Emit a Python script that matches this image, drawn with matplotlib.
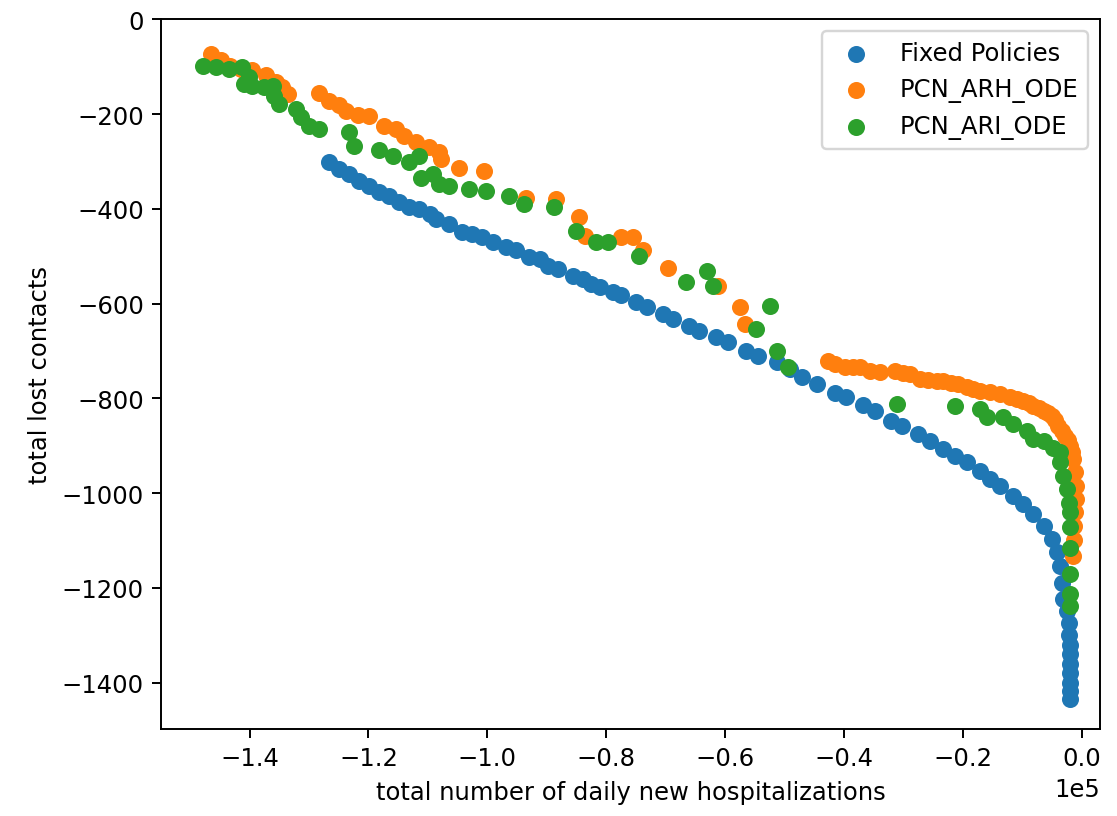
import matplotlib
matplotlib.use('Agg')
import matplotlib.pyplot as plt
import numpy as np

# x values in units of 1e5 hospitalizations, y = total lost contacts
fixed_x = [
	-1.266, -1.249, -1.232, -1.215, -1.199, -1.182, -1.165, -1.148, -1.131, -1.114,
	-1.097, -1.086, -1.064, -1.042, -1.025, -1.008, -0.991, -0.968, -0.951, -0.929,
	-0.912, -0.898, -0.881, -0.856, -0.839, -0.825, -0.811, -0.789, -0.775, -0.749,
	-0.732, -0.705, -0.688, -0.660, -0.643, -0.615, -0.595, -0.564, -0.544, -0.513,
	-0.491, -0.471, -0.446, -0.415, -0.396, -0.368, -0.348, -0.320, -0.303, -0.275,
	-0.255, -0.233, -0.213, -0.193, -0.171, -0.154, -0.137, -0.115, -0.098, -0.081,
	-0.064, -0.050, -0.042, -0.036, -0.033, -0.031, -0.025, -0.022, -0.021, -0.020,
	-0.020, -0.019, -0.019, -0.019, -0.019, -0.019,
]
fixed_y = [
	-302, -316, -327, -341, -351, -364, -372, -385, -397, -400,
	-411, -422, -432, -450, -453, -460, -471, -481, -488, -502,
	-506, -520, -527, -541, -548, -559, -566, -576, -583, -597,
	-608, -622, -633, -647, -657, -671, -682, -700, -710, -724,
	-738, -756, -770, -788, -798, -814, -826, -848, -858, -876,
	-890, -907, -921, -935, -953, -971, -985, -1006, -1023, -1045,
	-1069, -1097, -1125, -1154, -1189, -1224, -1250, -1275, -1300, -1320,
	-1340, -1360, -1380, -1400, -1418, -1435,
]

arh_x = [
	-1.465, -1.448, -1.432, -1.415, -1.395, -1.373, -1.356, -1.345, -1.336, -1.283,
	-1.266, -1.249, -1.238, -1.218, -1.199, -1.173, -1.154, -1.140, -1.120, -1.098,
	-1.081, -1.078, -1.047, -1.005, -0.935, -0.884, -0.845, -0.836, -0.775, -0.755,
	-0.738, -0.696, -0.612, -0.575, -0.567, -0.427, -0.415, -0.398, -0.385, -0.373,
	-0.356, -0.339, -0.314, -0.300, -0.289, -0.272, -0.258, -0.244, -0.233, -0.220,
	-0.208, -0.193, -0.182, -0.171, -0.154, -0.137, -0.120, -0.109, -0.098, -0.089,
	-0.081, -0.072, -0.064, -0.057, -0.050, -0.044, -0.039, -0.033, -0.028, -0.023,
	-0.019, -0.016, -0.014, -0.011, -0.009, -0.009, -0.011, -0.012, -0.013, -0.014,
]
arh_y = [
	-73, -87, -98, -105, -108, -118, -133, -144, -158, -156,
	-172, -182, -193, -203, -205, -225, -232, -246, -260, -270,
	-281, -295, -314, -321, -378, -379, -418, -457, -460, -460,
	-488, -524, -562, -608, -643, -721, -728, -735, -735, -735,
	-742, -745, -742, -746, -749, -759, -761, -763, -763, -767,
	-770, -777, -780, -784, -787, -791, -798, -801, -805, -810,
	-816, -820, -826, -831, -837, -846, -858, -868, -879, -889,
	-900, -914, -928, -956, -985, -1013, -1041, -1070, -1100, -1132,
]

ari_x = [
	-1.479, -1.457, -1.434, -1.412, -1.401, -1.409, -1.395, -1.375, -1.361, -1.359,
	-1.350, -1.322, -1.314, -1.300, -1.283, -1.232, -1.224, -1.182, -1.159, -1.131,
	-1.114, -1.112, -1.092, -1.081, -1.064, -1.030, -1.002, -0.963, -0.938, -0.887,
	-0.850, -0.817, -0.797, -0.744, -0.665, -0.631, -0.620, -0.547, -0.525, -0.513,
	-0.494, -0.311, -0.213, -0.171, -0.160, -0.132, -0.115, -0.092, -0.081, -0.064,
	-0.048, -0.036, -0.036, -0.031, -0.025, -0.022, -0.019, -0.019, -0.019, -0.019,
	-0.019, -0.019,
]
ari_y = [
	-98, -101, -105, -101, -122, -137, -140, -144, -140, -161,
	-179, -189, -207, -225, -232, -239, -267, -277, -288, -302,
	-288, -334, -327, -348, -351, -358, -362, -372, -390, -397,
	-446, -471, -471, -499, -555, -531, -562, -654, -605, -700,
	-735, -812, -816, -823, -840, -840, -854, -868, -886, -890,
	-904, -914, -935, -963, -992, -1020, -1041, -1072, -1115, -1171,
	-1213, -1238,
]

series = [
	('Fixed Policies', fixed_x, fixed_y),
	('PCN_ARH_ODE', arh_x, arh_y),
	('PCN_ARI_ODE', ari_x, ari_y),
]


def main():
	fig = plt.figure(figsize=(1117 / 175, 817 / 175), dpi=175)
	ax = fig.add_axes([0.1441, 0.1065, 0.8407, 0.8687])

	for label, xs, ys in series:
		ax.scatter(np.array(xs) * 1e5, ys, label=label)

	ax.set_xlim(-1.549e5, 0.031e5)
	ax.set_ylim(-1498, 0)
	ax.ticklabel_format(axis='x', style='sci', scilimits=(0, 0))
	ax.set_xlabel('total number of daily new hospitalizations')
	ax.set_ylabel('total lost contacts')
	ax.legend(loc='upper right')

	fig.savefig('out.png', dpi=175)


if __name__ == '__main__':
	main()
